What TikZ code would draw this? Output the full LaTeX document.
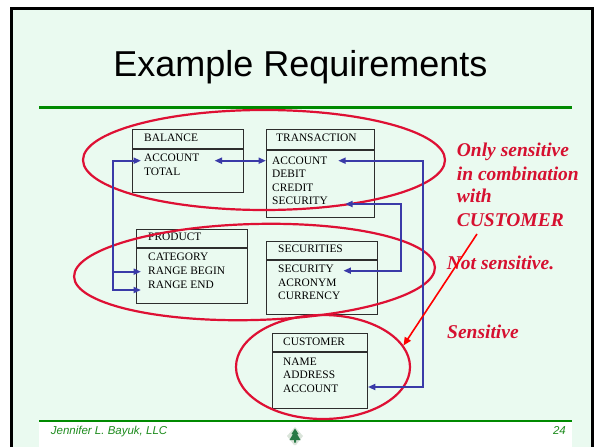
\documentclass[tikz,border=0pt]{standalone}
\usepackage{fontspec}
\setmainfont{Liberation Serif}
\newfontfamily\arialfont{Liberation Sans}
\usetikzlibrary{arrows.meta,calc,shapes.geometric}
\definecolor{mint}{RGB}{234,250,240}
\definecolor{rulegreen}{RGB}{0,138,0}
\definecolor{footgreen}{RGB}{30,140,30}
\definecolor{linkblue}{RGB}{58,58,168}
\definecolor{ringred}{RGB}{222,16,52}
\definecolor{notered}{RGB}{214,16,48}
\definecolor{boxgray}{RGB}{45,45,45}
\definecolor{treegreen}{RGB}{40,120,70}
\tikzset{
  bluehead/.tip={Triangle[length=7.5pt,width=6pt]},
  redhead/.tip={Triangle[length=8pt,width=7pt]},
  entity/.style={draw=boxgray, line width=0.9pt, anchor=north west, inner sep=0pt, minimum width=#1},
  field/.style={anchor=base west, inner sep=0pt, text height=7.6pt, text depth=0pt,
    font=\fontsize{11.4}{13.4}\selectfont, text=black},
  link/.style={draw=linkblue, line width=2pt},
  ring/.style={ellipse, draw=ringred, line width=2.2pt, inner sep=0pt},
  note/.style={anchor=base west, inner sep=0pt, text=notered,
    font=\bfseries\itshape\fontsize{19.5}{23}\selectfont},
  pointer/.style={draw=red, line width=1.6pt, -redhead},
  rule/.style={draw=rulegreen, line width=2.6pt},
}
\begin{document}
\begin{tikzpicture}[x=1pt,y=-1pt]
\useasboundingbox (0,0) rectangle (600,447);
% slide background and frame
\fill[white] (0,0) rectangle (600,447);
\fill[mint] (11,8) rectangle (593,447);
\fill[white] (39,421) rectangle (572,447);
\draw[line width=2.5pt, black] (11.5,447) -- (11.5,8.5) -- (592.5,8.5) -- (592.5,447);

% title and rules
\node[anchor=base, inner sep=0pt, font=\arialfont\fontsize{36}{40}\selectfont] (title) at (300.5,76) {Example Requirements};
\draw[rule] (39,107.3) -- (572,107.3);
\draw[rule] (39,421) -- (572,421);

% footer
\node[anchor=base west, inner sep=0pt, text=footgreen, font=\arialfont\itshape\fontsize{11.5}{13}\selectfont] (author) at (50.7,434.3) {Jennifer L. Bayuk, LLC};
\node[anchor=base east, inner sep=0pt, text=footgreen, font=\arialfont\itshape\fontsize{11.5}{13}\selectfont] (pageno) at (566,434.3) {24};
\fill[green!15!gray!25!white] (295,427) -- (303,436) -- (296,445) -- (294,445) -- (287,436) -- cycle;
\fill[treegreen] (295,428.5) -- (298.5,434) -- (297,434) -- (300.5,440) -- (296,440) -- (296,442.5) -- (294,442.5) -- (294,440) -- (289.5,440) -- (293,434) -- (291.5,434) -- cycle;

% BALANCE
\node[entity=111pt, minimum height=19pt] (bal-h) at (132,129) {};
\node[entity=111pt, minimum height=43pt] (bal-b) at (bal-h.south west) {};
\node[field] (bal-t) at (144,141.5) {BALANCE};
\node[field] (bal-1) at (144,161.8) {ACCOUNT};
\node[field] (bal-2) at (144,175.8) {TOTAL};

% TRANSACTION
\node[entity=108pt, minimum height=20pt] (trn-h) at (266,129) {};
\node[entity=108pt, minimum height=67pt] (trn-b) at (trn-h.south west) {};
\node[field] (trn-t) at (276,141.8) {TRANSACTION};
\node[field] (trn-1) at (272,164.5) {ACCOUNT};
\node[field] (trn-2) at (272,177.8) {DEBIT};
\node[field] (trn-3) at (272,191.2) {CREDIT};
\node[field] (trn-4) at (272,204.5) {SECURITY};

% PRODUCT
\node[entity=111pt, minimum height=18pt] (prd-h) at (136,229) {};
\node[entity=111pt, minimum height=55pt] (prd-b) at (prd-h.south west) {};
\node[field] (prd-t) at (148,240.5) {PRODUCT};
\node[field] (prd-1) at (148,260.5) {CATEGORY};
\node[field] (prd-2) at (148,274.8) {RANGE BEGIN};
\node[field] (prd-3) at (148,288.8) {RANGE END};

% SECURITIES
\node[entity=111pt, minimum height=18pt] (sec-h) at (266,241) {};
\node[entity=111pt, minimum height=54pt] (sec-b) at (sec-h.south west) {};
\node[field] (sec-t) at (278,252.8) {SECURITIES};
\node[field] (sec-1) at (278,272.8) {SECURITY};
\node[field] (sec-2) at (278,286.5) {ACRONYM};
\node[field] (sec-3) at (278,299.8) {CURRENCY};

% CUSTOMER
\node[entity=95pt, minimum height=18pt] (cus-h) at (272,333) {};
\node[entity=95pt, minimum height=56pt] (cus-b) at (cus-h.south west) {};
\node[field] (cus-t) at (283,345.5) {CUSTOMER};
\node[field] (cus-1) at (283,365.5) {NAME};
\node[field] (cus-2) at (283,378.8) {ADDRESS};
\node[field] (cus-3) at (283,392.1) {ACCOUNT};

% sensitivity groups
\node[ring, minimum width=362pt, minimum height=100pt] (ell-top) at (264,160) {};
\node[ring, minimum width=361pt, minimum height=96pt, rotate=1.5] (ell-mid) at (254.5,272) {};
\node[ring, minimum width=174pt, minimum height=104pt] (ell-cus) at (323,367) {};

% key links
\coordinate (leftbus) at (113,225);
\coordinate (secbus) at (401,240);
\coordinate (accbus) at (423,270);

\coordinate (tip-bal) at ($(bal-1.west)+(-3,2.7)$);
\coordinate (tip-rb) at ($(prd-2.west)+(-7,0.7)$);
\coordinate (tip-re) at ($(prd-3.west)+(-7,5)$);
\draw[link, bluehead-bluehead] (tip-re) -- (tip-re -| leftbus) |- (tip-bal);
\draw[link, -bluehead] (tip-rb -| leftbus) -- (tip-rb);

\coordinate (bal-out) at ($(bal-1.east)+(15,2.7)$);
\draw[link, bluehead-bluehead] (bal-out) -- (bal-out -| trn-b.west);

\coordinate (trn-acc) at ($(trn-1.east)+(10.7,0)$);
\coordinate (cus-acc) at ($(cus-3.center)+(0,-1.3)$);
\draw[link, bluehead-bluehead] (trn-acc) -- (trn-acc -| accbus) |- (cus-acc -| cus-b.east);

\coordinate (trn-sec) at ($(trn-4.east)+(17,3.3)$);
\coordinate (sec-sec) at ($(sec-1.east)+(9.3,1.7)$);
\draw[link, bluehead-bluehead] (trn-sec) -- (trn-sec -| secbus) |- (sec-sec);

% notes
\node[note] (note-1) at (456.7,156.7) {Only sensitive};
\node[note] (note-2) at (456.7,180) {in combination};
\node[note] (note-3) at (456.7,202.7) {with};
\node[note] (note-4) at (456.7,226.7) {CUSTOMER};
\node[note] (note-5) at (446.7,269.3) {Not sensitive.};
\node[note] (note-6) at (447,338) {Sensitive};

\coordinate (note-start) at ($(note-4.base west)+(20.3,7.3)$);
\draw[pointer] (note-start) -- (ell-cus.15);
\end{tikzpicture}
\end{document}
